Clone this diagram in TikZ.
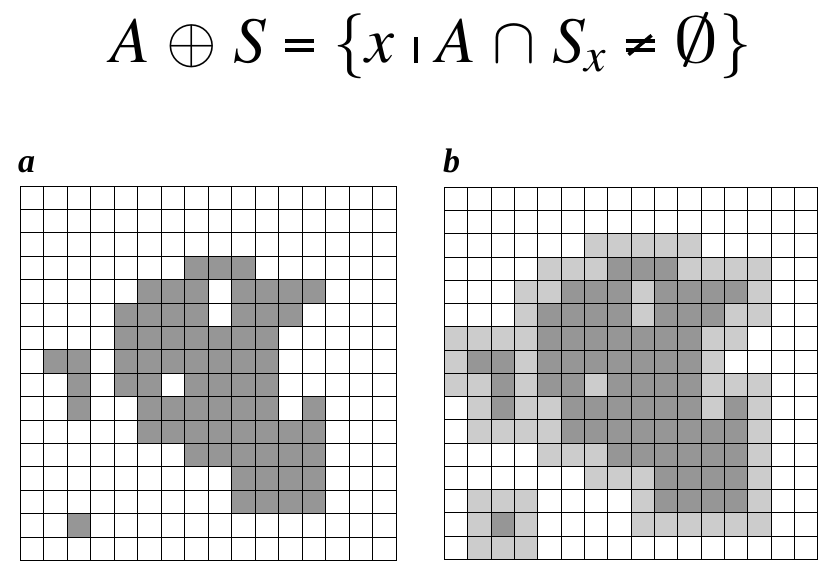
\documentclass[tikz,border=0pt]{standalone}
\usepackage{mathptmx}
\usepackage[no-math]{fontspec}
\newfontfamily\labelfont{Liberation Serif}
\DeclareFontFamily{OMS}{bigcmsy}{}
\DeclareFontShape{OMS}{bigcmsy}{m}{n}{<-> cmsy10}{}
\DeclareSymbolFont{bigsy}{OMS}{bigcmsy}{m}{n}
\DeclareMathSymbol{\emptyslash}{\mathord}{bigsy}{"3B}
\definecolor{CellDark}{RGB}{150,150,150}
\definecolor{CellLight}{RGB}{204,204,204}
% the set A (row/columns), and the cells added by the 3x3 dilation
\newcommand\setA{3/{7,8,9}, 4/{5,6,7,9,10,11,12}, 5/{4,5,6,7,9,10,11}, 6/{4,5,6,7,8,9,10},
  7/{1,2,4,5,6,7,8,9,10}, 8/{2,4,5,7,8,9,10}, 9/{2,5,6,7,8,9,10,12}, 10/{5,6,7,8,9,10,11,12},
  11/{7,8,9,10,11,12}, 12/{9,10,11,12}, 13/{9,10,11,12}, 14/{2}}
\newcommand\setAdded{2/{6,7,8,9,10}, 3/{4,5,6,10,11,12,13}, 4/{3,4,8,13}, 5/{3,8,12,13},
  6/{0,1,2,3,11,12}, 7/{0,3,11}, 8/{0,1,3,6,11,12,13}, 9/{1,3,4,11,13}, 10/{1,2,3,4,13},
  11/{4,5,6,13}, 12/{6,7,8,13}, 13/{1,2,3,8,13}, 14/{1,3,8,9,10,11,12,13}, 15/{1,2,3}}
\newcommand\shortbar{\mathrel{\rule[-1pt]{4pt}{26pt}}}
\newcommand\eqbars{\rlap{\raisebox{10pt}{\rule{29pt}{4pt}}}\raisebox{19pt}{\rule{29pt}{4pt}}}
\newcommand\thickeq{\mathrel{\eqbars}}
\newcommand\thickneq{\mathrel{\rlap{\makebox[29pt]{\raisebox{2pt}{\rotatebox[origin=c]{-50}{\rule{3.5pt}{30pt}}}}}\eqbars}}
\newcommand\wideempty{\mathord{\scalebox{1.4}[1]{$\emptyslash$}}}
\begin{document}
\begin{tikzpicture}[x=1pt, y=-1pt, darkcell/.style={fill=CellDark}, lightcell/.style={fill=CellLight},
  gridline/.style={line width=0.9pt, black, line cap=rect},
  panel/.style={font=\labelfont\bfseries\itshape\fontsize{34}{34}\selectfont, anchor=base west, inner sep=0pt}]
\useasboundingbox[fill=white] (0,0) rectangle (830,565);
\node[anchor=base, inner sep=0pt, font=\fontsize{65}{65}\selectfont] (formula) at (431,62)
  {\medmuskip=4.5mu \thickmuskip=5.25mu $A\oplus S\thickeq\{x\shortbar A\cap S_x\thickneq\wideempty\}$};
\node[panel] (lbla) at (18,172) {a};
\node[panel] (lblb) at (443,172) {b};
% grid a
\begin{scope}[shift={(20,186)}, x=23.5pt, y=-23.4pt]
  \foreach \r/\cs in \setA \foreach \c in \cs \fill[darkcell] (\c,\r) rectangle ++(1,1);
  \foreach \i in {0,...,16} {\draw[gridline] (\i,0) -- (\i,16); \draw[gridline] (0,\i) -- (16,\i);}
\end{scope}
% grid b
\begin{scope}[shift={(444.3,187.3)}, x=23.35pt, y=-23.25pt]
  \foreach \r/\cs in \setA \foreach \c in \cs \fill[darkcell] (\c,\r) rectangle ++(1,1);
  \foreach \r/\cs in \setAdded \foreach \c in \cs \fill[lightcell] (\c,\r) rectangle ++(1,1);
  \foreach \i in {0,...,16} {\draw[gridline] (\i,0) -- (\i,16); \draw[gridline] (0,\i) -- (16,\i);}
\end{scope}
\end{tikzpicture}
\end{document}
